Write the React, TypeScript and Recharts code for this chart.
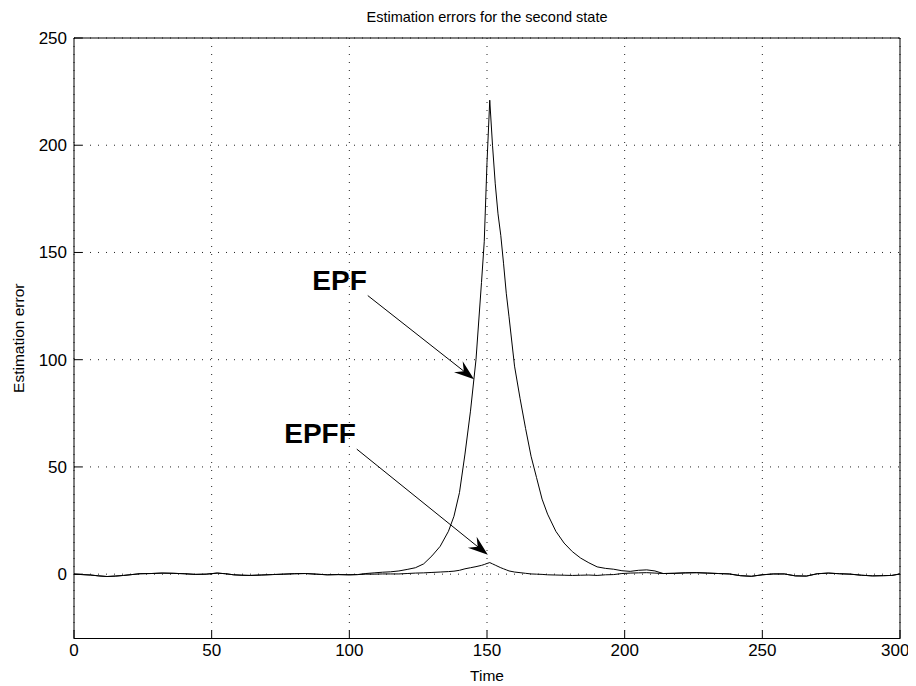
import { LineChart, Line, XAxis, YAxis, CartesianGrid, ReferenceLine } from "recharts";

const title = "Estimation errors for the second state";
const xLabel = "Time";
const yLabel = "Estimation error";

const xTicks = [0, 50, 100, 150, 200, 250, 300];
const yTicks = [0, 50, 100, 150, 200, 250];

const times = [
  0, 3, 6, 9, 12, 15, 18, 21, 24, 28,
  32, 36, 40, 44, 48, 52, 55, 58, 61, 64,
  68, 72, 76, 80, 84, 88, 92, 96, 100, 103,
  106, 109, 112, 115, 118, 121, 124, 127, 130, 133,
  136, 138, 140, 142, 144, 146, 148, 149, 150, 151,
  152, 153, 154, 155, 156, 157, 158, 160, 162, 164,
  166, 168, 170, 172, 175, 178, 181, 184, 187, 190,
  193, 196, 199, 202, 205, 208, 211, 214, 218, 222,
  226, 230, 234, 238, 242, 246, 250, 254, 258, 262,
  266, 270, 274, 278, 282, 286, 290, 294, 297, 300,
];

// both filters sit on the same noisy baseline until ~t=103
const baseline = [
  0, -0.2, -0.4, -0.8, -1.1, -0.9, -0.6, -0.2, 0.2, 0.3,
  0.5, 0.4, 0.2, -0.1, 0.0, 0.5, 0.2, -0.3, -0.5, -0.6,
  -0.4, -0.2, 0.0, 0.2, 0.3, 0.0, -0.3, -0.2, -0.3, -0.2,
];

const tail = [
  0.7, 0.5, 0.3, 0.1, -0.7, -1.0, -0.3, 0.1, 0.1, -0.8,
  -0.9, 0.2, 0.5, 0.2, 0.0, -0.5, -0.8, -0.7, -0.6, 0.1,
];

const epf = [
  ...baseline,
  0.3, 0.6, 0.9, 1.1, 1.5, 2.2, 3.0, 4.8, 8.5, 13,
  20, 27, 38, 56, 76, 100, 136, 155, 192, 221,
  200, 182, 168, 158, 145, 131, 120, 97, 82, 68,
  55, 45, 35, 28, 20, 14.5, 10.5, 7.5, 5.3, 3.4,
  2.7, 2.3, 1.6, 1.3, 1.8, 2.0, 1.5, 0.3, 0.4, 0.6,
  ...tail,
];

const epff = [
  ...baseline,
  0.0, 0.0, 0.1, 0.1, 0.1, 0.3, 0.5, 0.6, 0.8, 1.0,
  1.2, 1.4, 1.8, 2.5, 3.0, 3.5, 4.1, 4.5, 5.0, 5.4,
  4.8, 4.2, 3.6, 3.0, 2.5, 2.0, 1.5, 1.0, 0.7, 0.4,
  0.1, 0.0, -0.1, -0.3, -0.4, -0.5, -0.6, -0.5, -0.4, -0.6,
  -0.3, -0.2, 0.3, 0.5, 0.6, 0.7, 0.5, 0.3, 0.4, 0.6,
  ...tail,
];

// annotation arrows, in data units: [label, start, tip]
const arrows = [
  { label: "EPF", from: { x: 106.7, y: 129.9 }, to: { x: 145.3, y: 90.9 } },
  { label: "EPFF", from: { x: 102.7, y: 58.3 }, to: { x: 150.3, y: 9.0 } },
];

const data = times.map((t, i) => ({ t, epf: epf[i], epff: epff[i] }));

const FONT = "'Liberation Sans', Arial, Helvetica, sans-serif";

function arrowShape(label: string) {
  return (p: any) => {
    const { x1, y1, x2, y2 } = p;
    const dx = x2 - x1;
    const dy = y2 - y1;
    const len = Math.hypot(dx, dy) || 1;
    const ux = dx / len;
    const uy = dy / len;
    const nx = -uy;
    const ny = ux;
    const L = 20;
    const W = 7;
    const pts = [
      [x2, y2],
      [x2 - L * ux + W * nx, y2 - L * uy + W * ny],
      [x2 - 0.65 * L * ux, y2 - 0.65 * L * uy],
      [x2 - L * ux - W * nx, y2 - L * uy - W * ny],
    ]
      .map((q) => q.join(","))
      .join(" ");
    return (
      <g>
        <line x1={x1} y1={y1} x2={x2 - 0.6 * L * ux} y2={y2 - 0.6 * L * uy} stroke="#000" strokeWidth={1} />
        <polygon points={pts} fill="#000" />
        <text x={x1 - 1} y={y1 - 6} textAnchor="end" fontFamily={FONT} fontWeight="bold" fontSize={28} fill="#000">
          {label}
        </text>
      </g>
    );
  };
}

export default function App() {
  return (
    <div style={{ width: 900, height: 678, background: "#fff" }}>
      <LineChart width={900} height={678} data={data} margin={{ top: 29, right: 7, bottom: 17.5, left: 20 }}>
        <CartesianGrid stroke="#222" strokeDasharray="1 7" />
        <XAxis
          dataKey="t"
          type="number"
          domain={[0, 300]}
          ticks={xTicks}
          height={30}
          tickSize={-8}
          tickMargin={13.5}
          stroke="#000"
          tick={{ fill: "#000", fontSize: 17, fontFamily: FONT }}
          label={{
            content: (lp: any) => {
              const vb = lp.viewBox;
              return (
                <text x={vb.x + vb.width / 2} y={vb.y + 42.5} textAnchor="middle" fontFamily={FONT} fontSize={15.5} fill="#000">
                  {xLabel}
                </text>
              );
            },
          }}
        />
        <XAxis
          xAxisId="top"
          orientation="top"
          type="number"
          domain={[0, 300]}
          ticks={xTicks}
          height={1}
          tickSize={-8}
          tick={false}
          stroke="#000"
          label={{
            content: (lp: any) => {
              const vb = lp.viewBox;
              return (
                <text x={vb.x + vb.width / 2} y={vb.y - 15} textAnchor="middle" fontFamily={FONT} fontSize={14.5} fill="#000">
                  {title}
                </text>
              );
            },
          }}
        />
        <YAxis
          type="number"
          domain={[-30, 250]}
          ticks={yTicks}
          width={46}
          tickSize={-8}
          tickMargin={15}
          stroke="#000"
          tick={{ fill: "#000", fontSize: 17, fontFamily: FONT }}
          label={{
            content: (lp: any) => {
              const vb = lp.viewBox;
              const cx = vb.x - 10;
              const cy = vb.y + vb.height / 2;
              return (
                <text
                  x={cx}
                  y={cy}
                  transform={`rotate(-90, ${cx}, ${cy})`}
                  textAnchor="middle"
                  dominantBaseline="central"
                  fontFamily={FONT}
                  fontSize={15.5}
                  fill="#000"
                >
                  {yLabel}
                </text>
              );
            },
          }}
        />
        <YAxis
          yAxisId="right"
          orientation="right"
          type="number"
          domain={[-30, 250]}
          ticks={yTicks}
          width={1}
          tickSize={-8}
          tick={false}
          stroke="#000"
        />
        <Line dataKey="epf" type="linear" stroke="#000" strokeWidth={1} dot={false} isAnimationActive={false} />
        <Line dataKey="epff" type="linear" stroke="#000" strokeWidth={1} dot={false} isAnimationActive={false} />
        {arrows.map((a) => (
          <ReferenceLine
            key={a.label}
            segment={[a.from, a.to]}
            stroke="#000"
            ifOverflow="visible"
            shape={arrowShape(a.label)}
          />
        ))}
      </LineChart>
    </div>
  );
}
